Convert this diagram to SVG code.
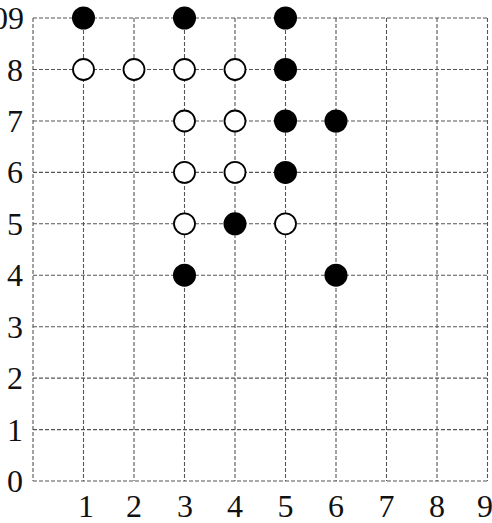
<svg xmlns="http://www.w3.org/2000/svg" width="492" height="523" viewBox="0 0 492 523">
<style>
.g{stroke:#555;stroke-width:1.1;stroke-dasharray:4 2;fill:none}
.t{font-family:"Liberation Serif","DejaVu Serif",serif;font-size:32px;fill:#111}
.b{fill:#000}
.w{fill:#fff;stroke:#000;stroke-width:1.8}
</style>
<rect width="492" height="523" fill="#fff"/>
<g id="grid">
<path class="g" d="M33 18V481M83.5 18V481M134 18V481M184.5 18V481M235 18V481M285.5 18V481M336 18V481M386.5 18V481M437 18V481M487.5 18V481"/>
<path class="g" d="M33 18H487.5M33 69.5H487.5M33 121H487.5M33 172.4H487.5M33 223.8H487.5M33 275.2H487.5M33 326.7H487.5M33 378.1H487.5M33 429.6H487.5M33 481H487.5"/>
</g>
<g id="ylabels" class="t" text-anchor="end">
<text x="24" y="29">09</text>
<text x="23" y="81">8</text>
<text x="23" y="132">7</text>
<text x="23" y="183">6</text>
<text x="23" y="235">5</text>
<text x="23" y="286">4</text>
<text x="23" y="338">3</text>
<text x="23" y="389">2</text>
<text x="23" y="441">1</text>
<text x="23" y="492">0</text>
</g>
<g id="xlabels" class="t" text-anchor="middle">
<text x="86" y="517">1</text>
<text x="134" y="517">2</text>
<text x="185" y="517">3</text>
<text x="235" y="517">4</text>
<text x="285.5" y="517">5</text>
<text x="336" y="517">6</text>
<text x="386.5" y="517">7</text>
<text x="437" y="517">8</text>
<text x="485" y="517">9</text>
</g>
<g id="black">
<circle class="b" cx="83.5" cy="18" r="11.5"/>
<circle class="b" cx="184.5" cy="18" r="11.5"/>
<circle class="b" cx="285.5" cy="18" r="11.5"/>
<circle class="b" cx="285.5" cy="69.5" r="11.5"/>
<circle class="b" cx="285.5" cy="121" r="11.5"/>
<circle class="b" cx="336" cy="121" r="11.5"/>
<circle class="b" cx="285.5" cy="172.4" r="11.5"/>
<circle class="b" cx="235" cy="223.8" r="11.5"/>
<circle class="b" cx="184.5" cy="275.2" r="11.5"/>
<circle class="b" cx="336" cy="275.2" r="11.5"/>
</g>
<g id="white">
<circle class="w" cx="83.5" cy="69.5" r="10.5"/>
<circle class="w" cx="134" cy="69.5" r="10.5"/>
<circle class="w" cx="184.5" cy="69.5" r="10.5"/>
<circle class="w" cx="235" cy="69.5" r="10.5"/>
<circle class="w" cx="184.5" cy="121" r="10.5"/>
<circle class="w" cx="235" cy="121" r="10.5"/>
<circle class="w" cx="184.5" cy="172.4" r="10.5"/>
<circle class="w" cx="235" cy="172.4" r="10.5"/>
<circle class="w" cx="184.5" cy="223.8" r="10.5"/>
<circle class="w" cx="285.5" cy="223.8" r="10.5"/>
</g>
</svg>
